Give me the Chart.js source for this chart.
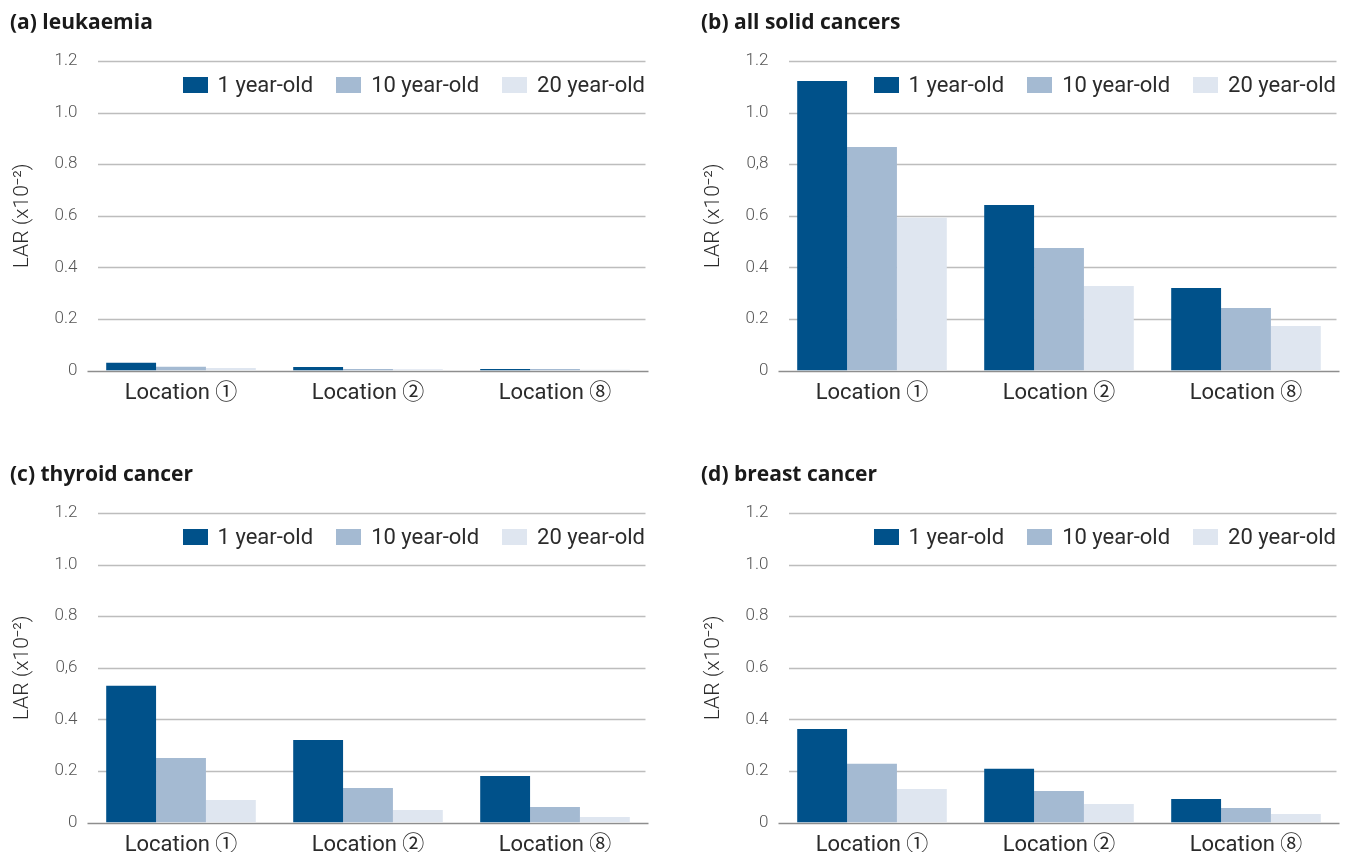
<!DOCTYPE html>
<html>
<head>
<meta charset="utf-8">
<title>Lifetime attributable risk by location and age at exposure</title>
<script src="https://cdn.jsdelivr.net/npm/chart.js@4.4.1/dist/chart.umd.min.js"></script>
<style>
  html, body { margin: 0; padding: 0; background: #fff; width: 1354px; height: 852px; overflow: hidden; }
  .panel { position: absolute; width: 663px; height: 420px; }
  .panel canvas { position: absolute; left: 0; top: 0; }
  .legend {
    position: absolute; right: 18px; top: 73px; display: flex; align-items: center;
    font-family: Roboto, "Noto Sans CJK JP", sans-serif; font-weight: 400; font-size: 22px;
    line-height: 24px; color: #2b2b2b; white-space: nowrap;
  }
  .legend .item { display: flex; align-items: center; margin-left: 23px; }
  .legend .item:first-child { margin-left: 0; }
  .legend .sw { width: 25px; height: 16px; margin-right: 10px; }
  #pa { left: 0; top: 0; }
  #pb { left: 691px; top: 0; }
  #pc { left: 0; top: 452px; }
  #pd { left: 691px; top: 452px; }
</style>
</head>
<body>
<div class="panel" id="pa"><canvas id="ca" width="663" height="420"></canvas><div class="legend"></div></div>
<div class="panel" id="pb"><canvas id="cb" width="663" height="420"></canvas><div class="legend"></div></div>
<div class="panel" id="pc"><canvas id="cc" width="663" height="420"></canvas><div class="legend"></div></div>
<div class="panel" id="pd"><canvas id="cd" width="663" height="420"></canvas><div class="legend"></div></div>
<script>
// Categories and series
const locations = ['Location \u2460', 'Location \u2461', 'Location \u2467'];
const ageGroups = ['1 year-old', '10 year-old', '20 year-old'];
const ageColors = ['#00518a', '#a4bad2', '#dfe6f0'];

// LAR (x10^-2) per location, one array per age group
const leukaemia1y  = [0.030, 0.014, 0.006];
const leukaemia10y = [0.015, 0.006, 0.006];
const leukaemia20y = [0.010, 0.005, 0.003];

const solid1y  = [1.122, 0.642, 0.320];
const solid10y = [0.867, 0.475, 0.242];
const solid20y = [0.592, 0.328, 0.173];

const thyroid1y  = [0.530, 0.320, 0.180];
const thyroid10y = [0.250, 0.134, 0.060];
const thyroid20y = [0.087, 0.048, 0.021];

const breast1y  = [0.363, 0.208, 0.091];
const breast10y = [0.228, 0.122, 0.056];
const breast20y = [0.130, 0.072, 0.033];

// Y tick labels, bottom to top
const yTicksA = ['0', '0.2', '0.4', '0.6', '0.8', '1.0', '1.2'];
const yTicksB = ['0', '0.2', '0.4', '0.6', '0,8', '1.0', '1.2'];
const yTicksC = ['0', '0.2', '0.4', '0,6', '0.8', '1.0', '1.2'];
const yTicksD = ['0', '0.2', '0.4', '0.6', '0.8', '1.0', '1.2'];

const yMax = 1.2;
const yStep = 0.2;
const yTitle = 'LAR (x10\u207B\u00B2)';

const FONT = 'Roboto, "Noto Sans CJK JP", sans-serif';

// Horizontal grid lines, slightly inset from the plot edges, plus the baseline
const insetGrid = {
  id: 'insetGrid',
  beforeDatasetsDraw(chart) {
    const { ctx, chartArea: a, scales: { y } } = chart;
    ctx.save();
    ctx.lineWidth = 1.3;
    y.ticks.forEach(t => {
      const py = Math.round(y.getPixelForValue(t.value)) + 0.5;
      if (Math.abs(t.value) < 1e-9) {
        ctx.strokeStyle = '#8e8e8e';
        ctx.beginPath(); ctx.moveTo(a.left, py); ctx.lineTo(a.right, py); ctx.stroke();
      } else {
        ctx.strokeStyle = '#bdbdbd';
        ctx.beginPath(); ctx.moveTo(a.left + 10.5, py); ctx.lineTo(a.right - 3, py); ctx.stroke();
      }
    });
    ctx.restore();
  }
};

function buildLegend(panelId) {
  const box = document.querySelector('#' + panelId + ' .legend');
  ageGroups.forEach((name, i) => {
    const item = document.createElement('div');
    item.className = 'item';
    const sw = document.createElement('span');
    sw.className = 'sw';
    sw.style.background = ageColors[i];
    const tx = document.createElement('span');
    tx.textContent = name;
    item.appendChild(sw);
    item.appendChild(tx);
    box.appendChild(item);
  });
}

function makeChart(canvasId, panelId, title, series, tickLabels) {
  buildLegend(panelId);
  return new Chart(document.getElementById(canvasId), {
    type: 'bar',
    data: {
      labels: locations,
      datasets: series.map((vals, i) => ({
        label: ageGroups[i],
        data: vals,
        backgroundColor: ageColors[i],
        borderWidth: 0,
        categoryPercentage: 0.8,
        barPercentage: 1.0
      }))
    },
    options: {
      responsive: false,
      animation: false,
      layout: { padding: { left: 10, right: 14.5, top: 0, bottom: 0 } },
      plugins: {
        legend: { display: false },
        tooltip: { enabled: false },
        title: {
          display: true,
          text: title,
          align: 'start',
          color: '#1a1a1a',
          font: { family: '"Open Sans", ' + FONT, size: 21, weight: 'bold', lineHeight: 1.2 },
          padding: { top: 10, bottom: 25.8 }
        }
      },
      scales: {
        x: {
          grid: { display: false, drawTicks: false },
          border: { display: false },
          ticks: { color: '#2b2b2b', padding: 10, font: { family: FONT, size: 22, weight: 400 } },
          afterFit: s => { s.height = 49.5; }
        },
        y: {
          min: 0,
          max: yMax,
          grid: { display: false, drawTicks: false },
          border: { display: false },
          ticks: {
            stepSize: yStep,
            padding: 10,
            color: '#555555',
            font: { family: FONT, size: 17, weight: 300 },
            callback: v => tickLabels[Math.round(v / yStep)]
          },
          title: {
            display: true,
            text: yTitle,
            color: '#2b2b2b',
            font: { family: FONT, size: 21, weight: 300, lineHeight: 1.2 },
            padding: { top: 0, bottom: 0 }
          },
          afterFit: s => { s.width = 77.5; }
        }
      }
    },
    plugins: [insetGrid]
  });
}

makeChart('ca', 'pa', '(a) leukaemia', [leukaemia1y, leukaemia10y, leukaemia20y], yTicksA);
makeChart('cb', 'pb', '(b) all solid cancers', [solid1y, solid10y, solid20y], yTicksB);
makeChart('cc', 'pc', '(c) thyroid cancer', [thyroid1y, thyroid10y, thyroid20y], yTicksC);
makeChart('cd', 'pd', '(d) breast cancer', [breast1y, breast10y, breast20y], yTicksD);
</script>
</body>
</html>
